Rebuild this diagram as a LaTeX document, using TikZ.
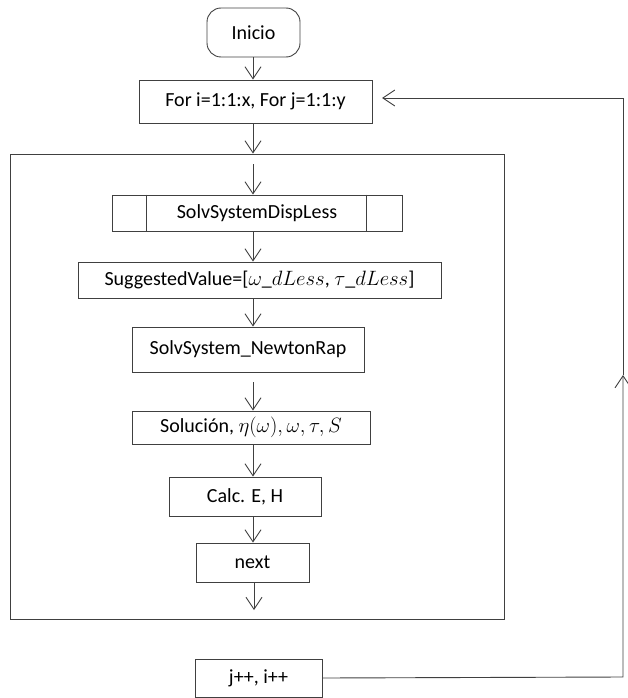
\documentclass[tikz,border=0pt]{standalone}
\usepackage{fontspec}
\setmainfont{Carlito}
\usetikzlibrary{arrows.meta}
\begin{document}
\begin{tikzpicture}[x=1pt,y=-1pt,
  line width=0.9pt,
  lc/.style={draw=black!75},
  box/.style={draw=black!75,line width=0.9pt,rectangle,inner sep=0pt,font=\fontsize{20}{24}\selectfont,text=black},
  arr/.style={lc,-{Straight Barb[length=12pt,width=16pt,line width=0.9pt]}}]
\useasboundingbox (0,0) rectangle (627,698);
\coordinate (ax) at (253,0);
\node[box,rounded corners=14pt,minimum width=93pt,minimum height=49pt] (inicio) at (253.5,32.5) {Inicio};
\node[box,minimum width=233pt,minimum height=43pt] (for) at (255.5,101.5) {For i=1:1:x, For j=1:1:y};
\node[box,minimum width=494pt,minimum height=465pt] (big) at (257,386.5) {};
\node[box,minimum width=290pt,minimum height=36pt] (disp) at (257,213) {SolvSystemDispLess};
\draw[lc] (disp.north west) ++(35,0) -- ++(0,36);
\draw[lc] (disp.north east) ++(-36,0) -- ++(0,36);
\node[box,minimum width=363pt,minimum height=36pt] (sugg) at (259.5,280) {SuggestedValue=[$\omega\_dLess$, $\tau\_dLess$]};
\node[box,minimum width=232pt,minimum height=45pt] (newton) at (248,349.5) {SolvSystem\_NewtonRap};
\node[box,minimum width=238pt,minimum height=33pt] (sol) at (251,427.5) {Solución, $\eta(\omega),\omega,\tau,S$};
\node[box,minimum width=152pt,minimum height=39pt] (calc) at (245,496.5) {Calc. E, H};
\node[box,minimum width=113pt,minimum height=39pt] (next) at (252.5,562.5) {next};
\node[box,minimum width=127pt,minimum height=38pt] (jpp) at (258.5,678) {j++, i++};
\coordinate (s1) at (253,164);
\coordinate (s2) at (253,382);
\coordinate (e1) at (254,610);
\coordinate (c1) at (623,677);
\coordinate (c2) at (623,375);
\coordinate (c3) at (623,98);
\coordinate (c4) at (382,98);
\draw[arr] (inicio.south -| ax) -- (for.north -| ax);
\draw[arr] (for.south -| ax) -- (big.north -| ax);
\draw[arr] (s1) -- (disp.north -| s1);
\draw[arr] (disp.south -| ax) -- (sugg.north -| ax);
\draw[arr] (sugg.south -| ax) -- (newton.north -| ax);
\draw[arr] (s2) -- (sol.north -| s2);
\draw[arr] (sol.south -| ax) -- (calc.north -| ax);
\draw[arr] (calc.south -| ax) -- (next.north -| ax);
\draw[arr] (next.south -| e1) -- (e1);
\draw[arr] (jpp.east) -- (c1) -- (c2);
\draw[arr] (c2) -- (c3) -- (c4);
\end{tikzpicture}
\end{document}
